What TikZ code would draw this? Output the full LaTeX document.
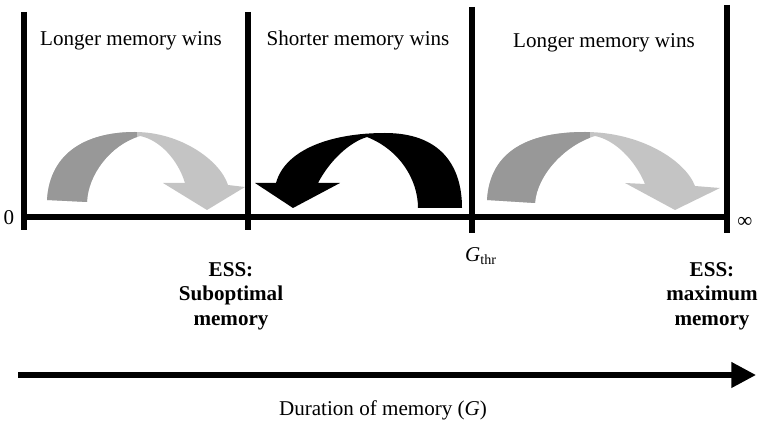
\documentclass[tikz,border=0pt]{standalone}
\usepackage{fontspec}
\setmainfont{Liberation Serif}
\usetikzlibrary{arrows.meta}
\definecolor{darkarc}{RGB}{152,152,152}
\definecolor{lightarc}{RGB}{196,196,196}
\begin{document}
\begin{tikzpicture}[
  x=0.02cm, y=-0.02cm, font=\fontsize{12}{15}\selectfont,
  bar/.style={line width=3.2pt},
  axis/.style={line width=3.8pt},
  twotone/.style={fill=lightarc,
                  path picture={\fill[darkarc] (0,0) rectangle (#1,425);}},
  lbl/.style={anchor=base, inner sep=0pt},
  ess/.style={align=center, inner sep=0pt,
              font=\fontsize{12}{14}\selectfont\bfseries}
]
\useasboundingbox (0,0) rectangle (761,425);

%% Curved arrows
\path[twotone=137] (47,200) .. controls (50,150) and (90,132) .. (135,132)
  .. controls (180,132) and (220,160) .. (228,185) -- (245,187) -- (207,210)
  -- (163,183) -- (185,183) .. controls (178,160) and (160,140) .. (140,136)
  .. controls (110,145) and (88,175) .. (87,202) -- cycle;
\fill[black] (462,208) .. controls (462,165) and (440,133) .. (385,133)
  .. controls (330,133) and (285,150) .. (276,183) -- (255,183) -- (293,208)
  -- (340,183) -- (318,183) .. controls (330,160) and (350,142) .. (367,137)
  .. controls (400,150) and (418,180) .. (418,208) -- cycle;
\path[twotone=590] (487,200) .. controls (490,150) and (530,132) .. (585,132)
  .. controls (640,132) and (685,160) .. (695,186) -- (720,188) -- (675,210)
  -- (625,183) -- (645,184) .. controls (635,160) and (615,140) .. (595,136)
  .. controls (565,145) and (537,175) .. (535,203) -- cycle;

%% Axis with region borders
\foreach \n/\x/\t/\b in {0/24/12/230, 1/248/12/230, 2/472/7/233, 3/727/5/233}{
  \coordinate (top\n) at (\x,\t);
  \coordinate (bot\n) at (\x,\b);
  \coordinate (ax\n) at (\x,217);
  \draw[bar] (top\n) -- (bot\n);
}
\draw[axis] (ax0) -- (ax3);

%% Region labels
\node[lbl] (lwinsA) at (131,46) {Longer memory wins};
\node[lbl] (swins) at (358,46) {Shorter memory wins};
\node[lbl] (lwinsB) at (604,48) {Longer memory wins};

%% Axis labels
\node (zero) at (9,218) {0};
\node (inf) at (745,222) {∞};
\node (gthr) at (481,256) {\textit{G}\textsubscript{thr}};
\node[ess] (essA) at (231,296) {ESS:\\Suboptimal\\memory};
\node[ess] (essB) at (712,296) {ESS:\\maximum\\memory};

%% Duration axis
\coordinate (gstart) at (18,375);
\coordinate (gend) at (756,375);
\draw[line width=3pt, -{Triangle[length=14pt,width=14pt]}] (gstart) -- (gend);
\node (dur) at (383,410) {Duration of memory (\textit{G})};

\end{tikzpicture}
\end{document}
